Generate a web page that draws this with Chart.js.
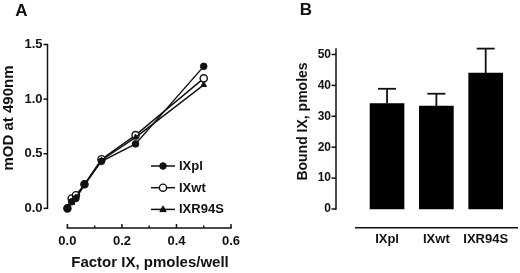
<!DOCTYPE html>
<html>
<head>
<meta charset="utf-8">
<script src="https://cdn.jsdelivr.net/npm/chart.js@4/dist/chart.umd.min.js"></script>
<style>
  html, body { margin: 0; padding: 0; background: #fff; }
  #wrap { position: relative; width: 520px; height: 273px; }
  canvas { position: absolute; top: 0; }
  #cA { left: 0; }
  #cB { left: 260px; }
</style>
</head>
<body>
<div id="wrap">
  <canvas id="cA" width="260" height="273"></canvas>
  <canvas id="cB" width="260" height="273"></canvas>
</div>
<script>
// ── Panel A : binding curves ─────────────────────────────────────────────
const FACTOR_IX = [0, 0.015625, 0.03125, 0.0625, 0.125, 0.25, 0.5];
const IXPL   = [0, 0.06, 0.09, 0.22, 0.43, 0.59, 1.30];
const IXWT   = [0, 0.09, 0.12, 0.22, 0.45, 0.67, 1.19];
const IXR94S = [0, 0.05, 0.10, 0.21, 0.44, 0.65, 1.13];
const LEGEND_ORDER = ['IXpl', 'IXwt', 'IXR94S'];
const A_X_TICKS = [0, 0.2, 0.4, 0.6];
const A_X_MINOR = [0.1, 0.3, 0.5];
const A_Y_TICKS = [0, 0.5, 1.0, 1.5];

// ── Panel B : bound factor IX ────────────────────────────────────────────
const VARIANTS = ['IXpl', 'IXwt', 'IXR94S'];
const BOUND = [34.1, 33.3, 44.0];
const BOUND_SD = [4.8, 4.0, 7.9];
const B_Y_TICKS = [0, 10, 20, 30, 40, 50];

const FONT = '"Liberation Sans", Arial, Helvetica, sans-serif';
const INK = '#111';

function toXY(ys) {
  return FACTOR_IX.map((x, i) => ({ x, y: ys[i] }));
}

// axes drawn "detached" like the original figure
function drawAxis(ctx, x1, y1, x2, y2) {
  ctx.beginPath();
  ctx.moveTo(x1, y1);
  ctx.lineTo(x2, y2);
  ctx.stroke();
}

const panelA = {
  id: 'panelA',
  afterDraw(chart) {
    const { ctx, chartArea, scales } = chart;
    const xs = scales.x, ys = scales.y;
    ctx.save();
    ctx.strokeStyle = INK;
    ctx.lineWidth = 1.5;

    // y axis
    const yl = chartArea.left;
    drawAxis(ctx, yl, ys.getPixelForValue(0) + 0.75, yl, ys.getPixelForValue(1.5) - 0.75);
    A_Y_TICKS.forEach(v => {
      const p = ys.getPixelForValue(v);
      drawAxis(ctx, yl - 4, p, yl, p);
    });

    // x axis
    const xb = chartArea.bottom;
    drawAxis(ctx, xs.getPixelForValue(0) - 0.75, xb, xs.getPixelForValue(0.6) + 0.75, xb);
    A_X_TICKS.forEach(v => {
      const p = xs.getPixelForValue(v);
      drawAxis(ctx, p, xb, p, xb - 4);
    });
    A_X_MINOR.forEach(v => {
      const p = xs.getPixelForValue(v);
      drawAxis(ctx, p, xb, p, xb - 2.5);
    });

    // titles
    ctx.fillStyle = INK;
    ctx.font = 'bold 17px ' + FONT;
    ctx.textAlign = 'center';
    ctx.textBaseline = 'middle';
    ctx.fillText('A', 21.5, 11);

    ctx.font = 'bold 15px ' + FONT;
    ctx.fillText('Factor IX, pmoles/well', 150, 263);

    ctx.save();
    ctx.translate(8.5, 118);
    ctx.rotate(-Math.PI / 2);
    ctx.fillText('mOD at 490nm', 0, 0);
    ctx.restore();

    // legend: line with marker in the middle
    LEGEND_ORDER.forEach((name, i) => {
      const ds = chart.data.datasets.find(d => d.label === name);
      const y = 166 + i * 21.7;
      ctx.strokeStyle = INK;
      ctx.lineWidth = 1.5;
      drawAxis(ctx, 151, y, 175, y);
      drawMarker(ctx, ds, 163, y);
      ctx.fillStyle = INK;
      ctx.font = 'bold 13px ' + FONT;
      ctx.textAlign = 'left';
      ctx.textBaseline = 'middle';
      ctx.fillText(ds.label, 179, y + 0.5);
    });
    ctx.restore();
  },
};

function drawMarker(ctx, ds, x, y) {
  const r = ds.pointRadius;
  ctx.beginPath();
  if (ds.pointStyle === 'triangle') {
    ctx.moveTo(x, y - r * 1.1);
    ctx.lineTo(x + r, y + r * 0.7);
    ctx.lineTo(x - r, y + r * 0.7);
    ctx.closePath();
  } else {
    ctx.arc(x, y, r, 0, Math.PI * 2);
  }
  ctx.fillStyle = ds.pointBackgroundColor;
  ctx.fill();
  ctx.lineWidth = ds.pointBorderWidth;
  ctx.strokeStyle = ds.pointBorderColor;
  ctx.stroke();
}

const lineBase = {
  borderColor: INK,
  borderWidth: 1.4,
  pointBorderColor: INK,
  tension: 0,
};

new Chart(document.getElementById('cA'), {
  type: 'line',
  plugins: [panelA],
  data: {
    datasets: [
      { ...lineBase, label: 'IXR94S', data: toXY(IXR94S), pointStyle: 'triangle',
        pointRadius: 3.2, pointBackgroundColor: INK, pointBorderWidth: 1 },
      { ...lineBase, label: 'IXpl', data: toXY(IXPL), pointStyle: 'circle',
        pointRadius: 3.3, pointBackgroundColor: INK, pointBorderWidth: 1 },
      { ...lineBase, label: 'IXwt', data: toXY(IXWT), pointStyle: 'circle',
        pointRadius: 3.6, pointBackgroundColor: '#fff', pointBorderWidth: 1.4 },
    ],
  },
  options: {
    responsive: false,
    animation: false,
    devicePixelRatio: 1,
    layout: { padding: { top: 44.5, right: 29, left: 0, bottom: 0 } },
    plugins: { legend: { display: false }, tooltip: { enabled: false } },
    scales: {
      x: {
        type: 'linear',
        min: -0.073,
        max: 0.6,
        afterFit: s => { s.height = 45; },
        afterBuildTicks: s => { s.ticks = A_X_TICKS.map(v => ({ value: v })); },
        grid: { display: false, drawTicks: false },
        border: { display: false },
        ticks: {
          padding: 6, color: INK, maxRotation: 0, autoSkip: false,
          font: { family: FONT, size: 13, weight: 'bold' },
          callback: v => Number(v).toFixed(1),
        },
      },
      y: {
        type: 'linear',
        min: -0.18,
        max: 1.5,
        afterFit: s => { s.width = 47.5; },
        afterBuildTicks: s => { s.ticks = A_Y_TICKS.map(v => ({ value: v })); },
        grid: { display: false, drawTicks: false },
        border: { display: false },
        ticks: {
          padding: 5, color: INK, autoSkip: false,
          font: { family: FONT, size: 13, weight: 'bold' },
          callback: v => Number(v).toFixed(1),
        },
      },
    },
  },
});

// ── Panel B ──────────────────────────────────────────────────────────────
const panelB = {
  id: 'panelB',
  afterDatasetsDraw(chart) {
    const { ctx, scales } = chart;
    const xs = scales.x, ys = scales.y;
    ctx.save();
    ctx.strokeStyle = INK;
    ctx.lineWidth = 1.8;
    // upper error whiskers
    BOUND.forEach((m, i) => {
      const x = xs.getPixelForValue(i + 1);
      const y0 = ys.getPixelForValue(m);
      const y1 = ys.getPixelForValue(m + BOUND_SD[i]);
      drawAxis(ctx, x, y0, x, y1);
      drawAxis(ctx, x - 9, y1, x + 9, y1);
    });
    ctx.restore();
  },
  afterDraw(chart) {
    const { ctx, chartArea, scales } = chart;
    const xs = scales.x, ys = scales.y;
    ctx.save();
    ctx.strokeStyle = INK;
    ctx.lineWidth = 1.5;

    const yl = chartArea.left;
    drawAxis(ctx, yl, ys.getPixelForValue(0) + 0.75, yl, ys.getPixelForValue(52));
    B_Y_TICKS.forEach(v => {
      const p = ys.getPixelForValue(v);
      drawAxis(ctx, yl - 4.5, p, yl, p);
    });

    const xb = chartArea.bottom;
    drawAxis(ctx, xs.getPixelForValue(0.35), xb, chartArea.right, xb);

    ctx.fillStyle = INK;
    ctx.font = 'bold 17px ' + FONT;
    ctx.textAlign = 'center';
    ctx.textBaseline = 'middle';
    ctx.fillText('B', 46, 10);

    ctx.font = 'bold 14px ' + FONT;
    ctx.save();
    ctx.translate(43.5, 121.5);
    ctx.rotate(-Math.PI / 2);
    ctx.fillText('Bound IX, pmoles', 0, 0);
    ctx.restore();
    ctx.restore();
  },
};

new Chart(document.getElementById('cB'), {
  type: 'bar',
  plugins: [panelB],
  data: {
    datasets: [{
      label: 'Bound IX',
      data: BOUND.map((v, i) => ({ x: i + 1, y: v })),
      backgroundColor: '#000',
      borderWidth: 0,
      barThickness: 34,
    }],
  },
  options: {
    responsive: false,
    animation: false,
    devicePixelRatio: 1,
    layout: { padding: { top: 48.3, right: 2, left: 0, bottom: 0 } },
    plugins: { legend: { display: false }, tooltip: { enabled: false } },
    scales: {
      x: {
        type: 'linear',
        offset: false,
        min: -0.035,
        max: 3.655,
        afterFit: s => { s.height = 45.3; },
        afterBuildTicks: s => { s.ticks = VARIANTS.map((_, i) => ({ value: i + 1 })); },
        grid: { display: false, drawTicks: false },
        border: { display: false },
        ticks: {
          padding: 4, color: INK, maxRotation: 0, autoSkip: false,
          font: { family: FONT, size: 13, weight: 'bold' },
          callback: v => VARIANTS[Math.round(v) - 1] ?? '',
        },
      },
      y: {
        type: 'linear',
        min: -6.05,
        max: 52,
        afterFit: s => { s.width = 76; },
        afterBuildTicks: s => { s.ticks = B_Y_TICKS.map(v => ({ value: v })); },
        grid: { display: false, drawTicks: false },
        border: { display: false },
        ticks: {
          padding: 5, color: INK, autoSkip: false,
          font: { family: FONT, size: 12, weight: 'bold' },
        },
      },
    },
  },
});
</script>
</body>
</html>
